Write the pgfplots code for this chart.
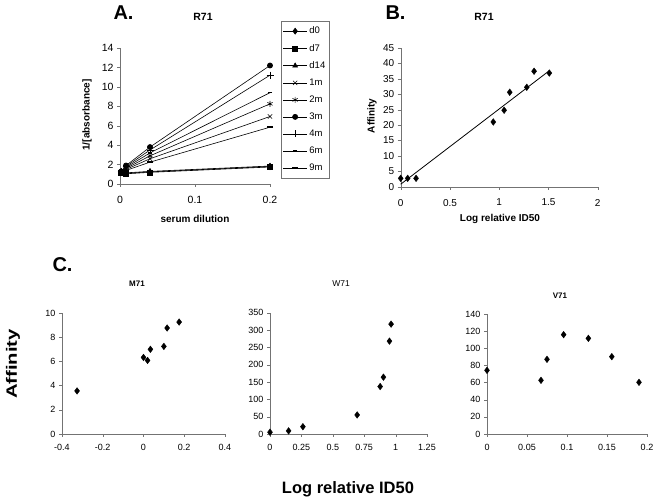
\documentclass[border=0pt]{standalone}
\usepackage{pgfplots}
\pgfplotsset{compat=1.18}
\usepackage{fontspec}
\setmainfont{Liberation Sans}
\definecolor{axgray}{gray}{0.45}
\pgfplotsset{excel/.style={
  scale only axis,
  axis x line*=bottom, axis y line*=left,
  axis line style={axgray, -},
  tick align=outside,
  major tick length=3pt,
  tick style={axgray},
  tick label style={font=\fontsize{9}{10}\selectfont},
  xticklabel style={yshift=-3.5pt},
  /pgf/number format/assume math mode=true,
  /pgf/number format/fixed,
  clip=false,
  every axis plot/.append style={black},
}}
\begin{document}
\begin{tikzpicture}[x=1pt,y=1pt]
\path[use as bounding box] (0,0) rectangle (654,501);

% ---------- Panel A ----------
\begin{axis}[excel, at={(120pt,317pt)}, anchor=south west,
  width=150pt, height=136pt,
  xmin=0, xmax=0.2, ymin=0, ymax=14,
  xtick={0,0.1,0.2}, ytick={0,2,...,14},
  tick label style={font=\fontsize{10.5}{12}\selectfont},
  xticklabel style={yshift=-2.5pt},
  legend style={at={(1.071,1.2)}, anchor=north west, draw=axgray,
    font=\fontsize{9.5}{10}\selectfont, row sep=4.9pt, inner xsep=2pt, inner ysep=4pt},
  legend cell align=left,
  legend image code/.code={\draw[mark repeat=2,mark phase=2,#1] plot coordinates {(0pt,0pt) (12pt,0pt) (24pt,0pt)};},
  every axis plot/.append style={mark size=2.5pt, line width=0.6pt},
]
\addplot[mark=diamond*, mark size=3pt] coordinates {(0.0016,1.25) (0.008,1.1) (0.04,1.25) (0.2,1.8)};
\addlegendentry{d0}
\addplot[mark=square*, mark size=2.5pt] coordinates {(0.0016,1.2) (0.008,1.05) (0.04,1.2) (0.2,1.75)};
\addlegendentry{d7}
\addplot[mark=triangle*, mark size=2.8pt] coordinates {(0.0016,1.3) (0.008,1.15) (0.04,1.3) (0.2,1.85)};
\addlegendentry{d14}
\addplot[mark=x, mark size=3pt] coordinates {(0.0016,1.25) (0.008,1.5) (0.04,2.6) (0.2,6.95)};
\addlegendentry{1m}
\addplot[mark=asterisk, mark size=3pt] coordinates {(0.0016,1.25) (0.008,1.6) (0.04,2.9) (0.2,8.25)};
\addlegendentry{2m}
\addplot[mark=*, mark size=2.6pt] coordinates {(0.0016,1.3) (0.008,1.9) (0.04,3.8) (0.2,12.2)};
\addlegendentry{3m}
\addplot[mark=+, mark size=3.5pt] coordinates {(0.0016,1.3) (0.008,1.8) (0.04,3.5) (0.2,11.2)};
\addlegendentry{4m}
\addplot[mark=-, mark size=2.2pt, mark options={line width=1.6pt}] coordinates {(0.0016,1.3) (0.008,1.7) (0.04,3.2) (0.2,9.4)};
\addlegendentry{6m}
\addplot[mark=-, mark size=3.2pt, mark options={line width=1.6pt}] coordinates {(0.0016,1.25) (0.008,1.4) (0.04,2.25) (0.2,5.85)};
\addlegendentry{9m}
\end{axis}

% ---------- Panel B ----------
\begin{axis}[excel, at={(400.7pt,314pt)}, anchor=south west,
  width=197pt, height=139.3pt,
  xmin=0, xmax=2, ymin=0, ymax=45,
  xtick={0,0.5,...,2}, ytick={0,5,...,45},
  xticklabels={0,0.5,1,1.5,2},
  tick label style={font=\fontsize{10}{12}\selectfont},
  xticklabel style={yshift=-2pt},
]
\addplot[only marks, mark=diamond*, mark size=3.3pt] coordinates {
  (0,2.8) (0.071,2.8) (0.156,2.8) (0.94,21.0) (1.05,24.8) (1.107,30.6) (1.28,32.2) (1.354,37.4) (1.509,36.8)};
\addplot[line width=0.8pt, no marks] coordinates {(0,0.9) (1.51,37.6)};
\end{axis}

% ---------- Panel C: M71 ----------
\begin{axis}[excel, at={(62pt,67pt)}, anchor=south west,
  width=163pt, height=121pt,
  xmin=-0.4, xmax=0.4, ymin=0, ymax=10,
  xtick={-0.4,-0.2,0,0.2,0.4}, ytick={0,2,...,10},
  xticklabels={-0.4,-0.2,0,0.2,0.4},
]
\addplot[only marks, mark=diamond*, mark size=3.3pt] coordinates {
  (-0.326,3.56) (0,6.33) (0.02,6.08) (0.034,7.0) (0.1,7.24) (0.116,8.76) (0.175,9.25)};
\end{axis}

% ---------- Panel C: W71 ----------
\begin{axis}[excel, at={(270pt,67pt)}, anchor=south west,
  width=157pt, height=121.3pt,
  xmin=0, xmax=1.25, ymin=0, ymax=350,
  xtick={0,0.25,0.5,0.75,1,1.25}, ytick={0,50,...,350},
  xticklabels={0,0.25,0.5,0.75,1,1.25},
]
\addplot[only marks, mark=diamond*, mark size=3.3pt] coordinates {
  (0,5) (0.148,9) (0.262,21) (0.694,55) (0.877,137) (0.903,164) (0.951,268) (0.964,317)};
\end{axis}

% ---------- Panel C: V71 ----------
\begin{axis}[excel, at={(487pt,67pt)}, anchor=south west,
  width=160pt, height=120pt,
  xmin=0, xmax=0.2, ymin=0, ymax=140,
  xtick={0,0.05,0.1,0.15,0.2}, ytick={0,20,...,140},
  xticklabels={0,0.05,0.1,0.15,0.2},
]
\addplot[only marks, mark=diamond*, mark size=3.3pt] coordinates {
  (0,74.3) (0.0675,62.6) (0.075,87.1) (0.0958,115.9) (0.1267,111.6) (0.156,90.2) (0.19,60.3)};
\end{axis}

% ---------- Texts ----------
\node[font=\fontsize{20}{22}\bfseries\selectfont, anchor=west] at (110,488) {A.};
\node[font=\fontsize{10.5}{12}\bfseries\selectfont] at (203,484.5) {R71};
\node[font=\fontsize{20}{22}\bfseries\selectfont, anchor=west] at (382,488) {B.};
\node[font=\fontsize{10.5}{12}\bfseries\selectfont] at (484,484.5) {R71};
\node[font=\fontsize{10}{12}\bfseries\selectfont, rotate=90] at (87,386) {1/[absorbance]};
\node[font=\fontsize{10}{12}\bfseries\selectfont] at (195,282) {serum dilution};
\node[font=\fontsize{10}{12}\bfseries\selectfont, rotate=90] at (372,385) {Affinity};
\node[font=\fontsize{10}{12}\bfseries\selectfont] at (500,282) {Log relative ID50};

\node[font=\fontsize{20}{22}\bfseries\selectfont, anchor=west] at (49,236) {C.};
\node[font=\fontsize{8}{9}\bfseries\selectfont] at (137,217) {M71};
\node[font=\fontsize{8.5}{10}\selectfont] at (341,217) {W71};
\node[font=\fontsize{8}{9}\bfseries\selectfont] at (560,205) {V71};
\node[font=\fontsize{15}{17}\bfseries\selectfont, rotate=90] at (13,137) {\scalebox{1.35}[1]{Affinity}};
\node[font=\fontsize{16.5}{18}\bfseries\selectfont] at (348,12) {Log relative ID50};
\end{tikzpicture}
\end{document}
